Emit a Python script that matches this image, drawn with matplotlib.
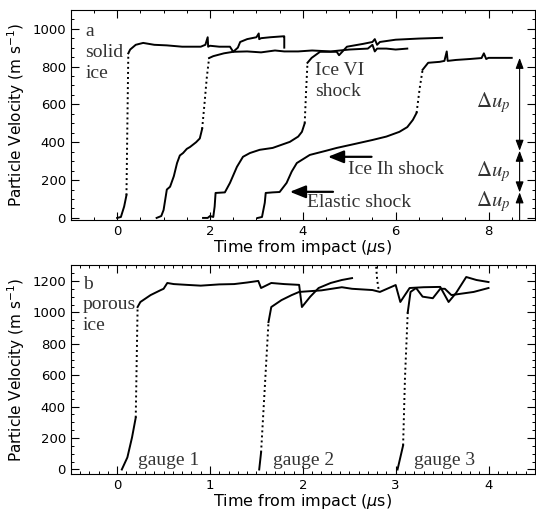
# shock wave particle velocity profiles in solid and porous ice

import matplotlib.pyplot as plt
from matplotlib.ticker import MultipleLocator

# ---- panel a: solid ice, four gauges ----
# each gauge: slow part before the jump, the fast jump (dotted), the plateau after it
a1_pre_t = [0.0, 0.08, 0.15, 0.2]
a1_pre_v = [0, 5, 60, 120]
a1_jump_t = [0.2, 0.22, 0.24]
a1_jump_v = [120, 500, 870]
a1_post_t = [0.24, 0.28, 0.4, 0.56, 0.8, 1.07, 1.4, 1.8, 1.9, 1.95, 1.96, 2.0, 2.2, 2.43, 2.5,
             2.6, 2.65, 2.8, 3.0, 3.05, 3.06, 3.1, 3.3, 3.58, 3.6, 3.6]
a1_post_v = [870, 890, 915, 925, 915, 912, 905, 905, 915, 955, 905, 910, 905, 905, 878,
             900, 930, 945, 955, 975, 945, 950, 955, 960, 960, 900]

a2_pre_t = [0.85, 0.95, 1.0, 1.07, 1.14, 1.22, 1.29, 1.35, 1.42, 1.5, 1.57, 1.7, 1.78, 1.83]
a2_pre_v = [0, 10, 42, 150, 165, 220, 290, 330, 343, 365, 375, 400, 420, 470]
a2_jump_t = [1.83, 1.88, 1.93, 1.98]
a2_jump_v = [470, 600, 740, 845]
a2_post_t = [1.98, 2.07, 2.3, 2.5, 2.8, 3.1, 3.4, 3.6, 3.9, 4.2, 4.6, 4.8, 5.0, 5.4, 5.5,
             5.55, 5.6, 5.8, 6.0, 6.25]
a2_post_v = [845, 855, 870, 878, 880, 875, 885, 880, 880, 885, 880, 885, 890, 895, 915,
             880, 895, 895, 890, 895]

a3_pre_t = [1.85, 1.95, 2.0, 2.07, 2.1, 2.12, 2.32, 2.43, 2.58, 2.71, 2.86, 3.07, 3.35, 3.72,
            3.9, 3.98, 4.04]
a3_pre_v = [0, 0, 10, 5, 60, 132, 135, 185, 270, 323, 343, 360, 370, 402, 430, 455, 500]
a3_jump_t = [4.04, 4.07, 4.1]
a3_jump_v = [500, 670, 820]
a3_post_t = [4.1, 4.19, 4.37, 4.73, 4.78, 4.95, 5.3, 5.5, 5.55, 5.6, 5.66, 6.0, 6.5, 7.0]
a3_post_v = [820, 846, 878, 878, 860, 905, 920, 930, 945, 915, 930, 942, 948, 952]

a4_pre_t = [3.03, 3.12, 3.18, 3.2, 3.35, 3.5, 3.65, 3.76, 3.87, 4.15, 4.5, 4.73, 5.1, 5.5,
            5.8, 6.08, 6.25, 6.37, 6.45]
a4_pre_v = [0, 5, 80, 132, 135, 137, 185, 245, 290, 333, 355, 370, 390, 412, 430, 455,
            480, 518, 555]
a4_jump_t = [6.45, 6.52, 6.58]
a4_jump_v = [555, 690, 783]
a4_post_t = [6.58, 6.7, 6.95, 7.05, 7.1, 7.12, 7.3, 7.6, 7.85, 7.9, 7.95, 8.0, 8.5]
a4_post_v = [783, 820, 825, 830, 880, 830, 835, 840, 845, 870, 840, 846, 846]

# ---- panel b: porous ice, three gauges ----
b1_pre_t = [0.05, 0.11, 0.16, 0.2]
b1_pre_v = [0, 77, 204, 330]
b1_jump_t = [0.2, 0.21, 0.22]
b1_jump_v = [330, 680, 1034]
b1_post_t = [0.22, 0.25, 0.36, 0.47, 0.5, 0.54, 0.61, 0.75, 0.9, 1.1, 1.26, 1.4, 1.52, 1.55,
             1.66, 1.8, 1.96, 1.99, 2.08, 2.17, 2.3, 2.42, 2.53]
b1_post_v = [1034, 1066, 1110, 1142, 1150, 1187, 1180, 1175, 1170, 1178, 1180, 1190, 1200, 1155,
             1187, 1180, 1175, 1034, 1100, 1155, 1187, 1206, 1218]

b2_pre_t = [1.53, 1.55]
b2_pre_v = [0, 108]
b2_jump_t = [1.55, 1.59, 1.63]
b2_jump_v = [108, 520, 938]
b2_post_t = [1.63, 1.66, 1.77, 1.88, 1.96, 2.2, 2.42, 2.53, 2.75, 2.83, 3.0, 3.05, 3.15, 3.3,
             3.48, 3.57, 3.65, 3.76, 3.87, 4.0]
b2_post_v = [938, 1034, 1078, 1110, 1130, 1140, 1160, 1150, 1142, 1130, 1174, 1066, 1155, 1160,
             1162, 1066, 1123, 1225, 1206, 1193]

b3_pre_t = [3.02, 3.08]
b3_pre_v = [0, 153]
b3_jump_t = [3.08, 3.1, 3.13]
b3_jump_v = [153, 580, 1000]
b3_post_t = [3.13, 3.16, 3.22, 3.29, 3.4, 3.48, 3.53, 3.6, 3.84, 4.0]
b3_post_v = [1000, 1130, 1155, 1100, 1090, 1150, 1150, 1110, 1130, 1155]

# noise spike in panel b near 2.8 us
b_spike_t = [2.79, 2.8, 2.82]
b_spike_v = [1290, 1210, 1130]

curves_a = [
    (a1_pre_t, a1_pre_v, a1_jump_t, a1_jump_v, a1_post_t, a1_post_v),
    (a2_pre_t, a2_pre_v, a2_jump_t, a2_jump_v, a2_post_t, a2_post_v),
    (a3_pre_t, a3_pre_v, a3_jump_t, a3_jump_v, a3_post_t, a3_post_v),
    (a4_pre_t, a4_pre_v, a4_jump_t, a4_jump_v, a4_post_t, a4_post_v),
]
curves_b = [
    (b1_pre_t, b1_pre_v, b1_jump_t, b1_jump_v, b1_post_t, b1_post_v),
    (b2_pre_t, b2_pre_v, b2_jump_t, b2_jump_v, b2_post_t, b2_post_v),
    (b3_pre_t, b3_pre_v, b3_jump_t, b3_jump_v, b3_post_t, b3_post_v),
]

# delta u_p levels marked on the right of panel a
dup_levels = [846, 355, 135, -10]

serif = 'Liberation Serif'
txt_col = '#333333'
lw = 1.4
dots = (0, (1, 1.6))

fig = plt.figure(figsize=(5.36, 5.16), dpi=100)
ax1 = fig.add_axes([0.132, 0.574, 0.866, 0.407])
ax2 = fig.add_axes([0.132, 0.081, 0.866, 0.405])


def draw(ax, curves):
    for pt, pv, jt, jv, qt, qv in curves:
        ax.plot(pt, pv, '-', color='k', lw=lw)
        ax.plot(jt, jv, color='k', lw=lw, linestyle=dots)
        ax.plot(qt, qv, '-', color='k', lw=lw)


draw(ax1, curves_a)
draw(ax2, curves_b)
ax2.plot(b_spike_t, b_spike_v, color='k', lw=lw, linestyle=dots)

for ax in (ax1, ax2):
    ax.tick_params(which='both', direction='in', top=True, right=True, labelsize=9.5)
    ax.tick_params(which='major', length=5.5, width=0.8)
    ax.tick_params(which='minor', length=2.5, width=0.7)
    for s in ax.spines.values():
        s.set_linewidth(0.8)
    ax.set_ylabel(r'Particle Velocity (m s$^{-1}$)', fontsize=11)
    ax.set_xlabel(r'Time from impact ($\mu$s)', fontsize=11.5, labelpad=0)

ax1.set_xlim(-1, 9)
ax1.set_ylim(-10, 1100)
ax1.xaxis.set_major_locator(MultipleLocator(2))
ax1.xaxis.set_minor_locator(MultipleLocator(0.5))
ax1.yaxis.set_major_locator(MultipleLocator(200))
ax1.yaxis.set_minor_locator(MultipleLocator(50))

ax2.set_xlim(-0.5, 4.5)
ax2.set_ylim(-30, 1300)
ax2.xaxis.set_major_locator(MultipleLocator(1))
ax2.xaxis.set_minor_locator(MultipleLocator(0.1))
ax2.yaxis.set_major_locator(MultipleLocator(200))
ax2.yaxis.set_minor_locator(MultipleLocator(50))

# panel a labels
fs = 14
ax1.text(-0.69, 873, 'a\nsolid\nice', family=serif, fontsize=fs, color=txt_col,
         va='center', ha='left', linespacing=1.3)
ax1.text(4.26, 722, 'Ice VI\nshock', family=serif, fontsize=fs, color=txt_col,
         va='center', ha='left', linespacing=1.3)
ax1.text(4.97, 254, 'Ice Ih shock', family=serif, fontsize=fs, color=txt_col,
         va='center', ha='left')
ax1.text(4.09, 79, 'Elastic shock', family=serif, fontsize=fs, color=txt_col,
         va='center', ha='left')
head = dict(arrowstyle='-|>,head_length=0.95,head_width=0.38', color='k', lw=1.6,
            mutation_scale=10, shrinkA=0, shrinkB=0)
ax1.annotate('', xy=(4.54, 323), xytext=(5.48, 323), arrowprops=head)
ax1.annotate('', xy=(3.72, 138), xytext=(4.65, 138), arrowprops=head)

small = dict(arrowstyle='<|-|>,head_length=0.8,head_width=0.3', color='k', lw=0.8,
             mutation_scale=8, shrinkA=0, shrinkB=0)
x_arr = 8.67
ax1.annotate('', xy=(x_arr, dup_levels[0]), xytext=(x_arr, dup_levels[1]), arrowprops=small)
ax1.annotate('', xy=(x_arr, dup_levels[1]), xytext=(x_arr, dup_levels[2]), arrowprops=small)
ax1.annotate('', xy=(x_arr, dup_levels[2]), xytext=(x_arr, dup_levels[3]),
             arrowprops=dict(small, arrowstyle='-|>,head_length=0.8,head_width=0.3'))
for yv in [608, 243, 85]:
    ax1.text(8.1, yv, r'$\Delta u_p$', fontsize=15, color=txt_col, ha='center', va='center',
             math_fontfamily='stix')

# panel b labels
ax2.text(-0.37, 1047, 'b\nporous\nice', family=serif, fontsize=fs, color=txt_col,
         va='center', ha='left', linespacing=1.3)
for gx, name in [(0.22, 'gauge 1'), (1.68, 'gauge 2'), (3.2, 'gauge 3')]:
    ax2.text(gx, 55, name, family=serif, fontsize=fs, color=txt_col, va='center', ha='left')

fig.savefig('out.png', dpi=100)
